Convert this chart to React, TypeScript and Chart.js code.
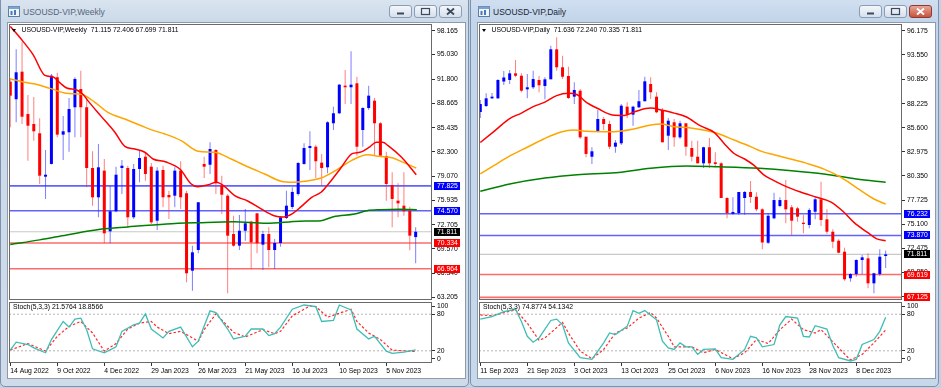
import React, { useEffect, useRef } from 'react';
import { Chart, registerables } from 'chart.js';

Chart.register(...registerables);

const FONT = '"Liberation Sans", Arial, Helvetica, sans-serif';
const FS = 6.8;
const X_MIN = -0.22;
const X_MAX = 71.78;

// ================= WEEKLY =================
const weeklyDates = ['14 Aug 2022', '9 Oct 2022', '4 Dec 2022', '29 Jan 2023', '26 Mar 2023', '21 May 2023', '16 Jul 2023', '10 Sep 2023', '5 Nov 2023'];
const weeklyDateBars = [0, 8, 16, 24, 32, 40, 48, 56, 64];
const weeklyOpen = [91.48, 89.18, 92.79, 87.25, 85.94, 84.72, 79.03, 80.70, 92.06, 84.54,
  84.85, 88.13, 90.52, 88.13, 80.17, 76.33, 79.82, 71.87, 74.50, 80.17,
  80.17, 73.71, 80.04, 81.65, 80.34, 73.26, 79.91, 76.63, 76.54, 79.82,
  76.86, 66.71, 69.42, 80.70, 80.60, 82.53, 77.85, 76.54, 71.52, 69.99,
  71.95, 73.13, 74.23, 70.12, 71.52, 69.42, 70.34, 73.62, 75.06, 76.76,
  80.70, 82.79, 82.96, 80.87, 80.26, 86.03, 87.34, 90.96, 90.75, 91.27,
  85.15, 88.03, 88.99, 86.03, 81.74, 77.94, 75.89, 75.23, 74.57, 71.115];
const weeklyHigh = [91.97, 95.73, 96.72, 89.74, 89.48, 86.68, 82.53, 92.49, 92.66, 86.99,
  89.35, 92.06, 92.92, 89.18, 82.36, 83.32, 81.35, 77.85, 80.34, 81.22,
  80.47, 80.70, 82.44, 82.23, 80.83, 80.26, 80.47, 77.20, 80.26, 81.05,
  77.20, 69.99, 75.68, 81.65, 83.54, 82.66, 79.16, 76.76, 73.92, 74.01,
  74.80, 73.26, 74.23, 71.95, 72.40, 70.87, 73.79, 77.20, 77.64, 80.92,
  83.41, 84.98, 83.22, 82.01, 86.29, 88.21, 91.18, 93.01, 95.47, 92.14,
  88.13, 90.96, 89.35, 86.20, 82.31, 79.61, 78.17, 79.61, 75.10, 72.406];
const weeklyLow = [85.50, 86.16, 85.94, 81.13, 83.75, 78.07, 76.11, 80.63, 84.19, 81.22,
  82.31, 84.19, 84.19, 77.64, 75.23, 73.71, 70.30, 70.30, 74.37, 76.76,
  72.40, 73.49, 78.30, 78.51, 72.83, 72.05, 75.02, 73.49, 75.02, 74.80,
  65.19, 64.09, 68.99, 78.86, 79.38, 76.76, 74.14, 63.75, 69.86, 69.42,
  70.64, 66.93, 68.99, 66.80, 67.16, 66.93, 69.86, 73.49, 74.80, 76.54,
  80.60, 79.91, 78.86, 77.85, 79.48, 85.15, 87.25, 88.56, 88.56, 81.78,
  82.96, 87.77, 81.78, 81.65, 75.89, 72.40, 73.71, 73.92, 69.40, 67.699];
const weeklyClose = [89.65, 92.71, 86.89, 85.71, 84.98, 79.16, 79.29, 92.27, 84.54, 84.98,
  87.90, 91.84, 88.13, 80.17, 76.33, 80.26, 71.61, 74.50, 79.29, 80.47,
  73.71, 80.04, 81.48, 79.38, 73.05, 79.82, 76.33, 76.33, 79.82, 76.33,
  66.37, 69.12, 75.68, 80.34, 82.66, 78.17, 76.67, 71.30, 69.99, 71.95,
  72.92, 70.43, 70.30, 71.52, 69.42, 70.34, 73.71, 75.23, 77.03, 80.83,
  82.79, 83.05, 81.05, 80.17, 86.16, 87.34, 91.09, 90.75, 91.09, 82.96,
  88.03, 89.65, 86.03, 81.78, 78.07, 76.11, 75.54, 74.50, 71.30, 71.811];
const weeklyPriceTicks = [98.165, 95.03, 91.8, 88.665, 85.435, 82.3, 79.07, 75.935, 72.705, 69.57, 66.34, 63.205];
const weeklyRange = [62.87, 99.04];
const weeklyBlueLevels = [77.825, 74.57];
const weeklyRedLevels = [70.334, 66.964];
const weeklyLast = 71.811;
const weeklyQuote = ['71.115', '72.406', '67.699', '71.811'];
// moving averages: [bar index, value]
const weeklyMaFast = [[0, 98.7], [1.7, 97.2], [3.9, 95.0], [5.9, 92.3], [7.3, 92.1], [8.5, 91.3], [9.6, 90.65], [11.3, 90.4], [12.4, 89.8], [13.2, 89.0], [15.4, 87.0], [17.8, 84.85], [19.5, 83.0], [21.2, 82.66], [22.9, 82.23], [24.3, 81.35], [26.5, 80.95], [28.9, 80.0], [30.8, 78.07], [31.9, 77.72], [33.7, 77.98], [35.1, 78.3], [36.5, 77.72], [38.2, 76.54], [40.4, 75.85], [42.7, 74.8], [44.9, 73.92], [46.5, 73.75], [48.1, 74.23], [49.5, 75.1], [51.3, 76.33], [52.9, 76.99], [54.6, 78.51], [56.2, 80.1], [58.2, 82.05], [59.5, 82.23], [61.2, 82.95], [62.3, 83.54], [63.4, 83.54], [64.3, 83.09], [66.6, 81.57], [69.1, 79.29]];
const weeklyMaMid = [[0, 91.84], [2.4, 91.4], [4, 91.2], [6.8, 90.6], [9.6, 89.95], [12.2, 89.8], [14.4, 88.78], [16.6, 87.47], [19.5, 86.59], [22.3, 85.71], [24.3, 85.1], [26.3, 84.63], [29.1, 83.75], [32, 82.36], [34.8, 82.23], [37.6, 81.35], [40.5, 80.3], [43.3, 79.38], [46.1, 78.43], [48.1, 78.3], [50.1, 78.43], [52.9, 78.86], [55.5, 79.9], [58.2, 81.2], [60.8, 81.9], [62.8, 81.7], [65, 81.5], [66.6, 81.0], [69.1, 80.17]];
const weeklyMaSlow = [[0, 70.15], [5, 70.75], [9.6, 71.39], [15.3, 72.14], [20, 72.45], [26.6, 72.83], [32, 73.0], [38, 73.13], [43.6, 72.92], [49.3, 73.2], [52.9, 73.26], [55, 73.79], [58.6, 74.14], [60.7, 74.57], [63, 74.7], [66.3, 74.75], [69.2, 74.7]];
const weeklyStochMain = [[0, 21.1], [1, 34.1], [3, 30.3], [4, 24.9], [6, 16.8], [7, 38.4], [9, 68.1], [10, 58.9], [11, 71.9], [12, 73.5], [13, 54.6], [14, 23.2], [16, 16.8], [18, 26.5], [19, 51.9], [21, 62.7], [22, 65.4], [23, 80.5], [24, 55.7], [26, 41.1], [27, 51.9], [29, 58.9], [31, 26.5], [32, 35.7], [34, 85.4], [35, 82.7], [37, 55.7], [38, 39.4], [40, 43.8], [41, 55.7], [43, 55.7], [44, 44.9], [45, 48.1], [46, 58.9], [48, 88.1], [50, 95.1], [52, 92.4], [53, 68.1], [55, 69.7], [56, 95.1], [58, 87.0], [59, 55.7], [61, 39.4], [62, 43.8], [64, 19.5], [65, 15.7], [67, 17.8], [69, 21.58]];
const weeklyStochSignal = [[0, 21.1], [3, 31.9], [6, 19.5], [8, 43.8], [10, 60], [12, 68.1], [14, 49.2], [16, 19.5], [18, 31.9], [20, 55.7], [22, 65.4], [24, 68.1], [25, 58.9], [27, 48.1], [29, 51.9], [32, 35.7], [33, 54.6], [35, 80.5], [38, 50.3], [40, 42.7], [43, 54.6], [45, 48.1], [46, 51.9], [48, 77.3], [51, 93.5], [52, 92.4], [54, 75.1], [56, 81.6], [58, 88.1], [59, 68.1], [61, 49.2], [63, 38.4], [65, 21.1], [69, 18.86]];
const weeklyStochText = ['21.5764', '18.8566'];

// ================= DAILY =================
const dailyDates = ['11 Sep 2023', '21 Sep 2023', '3 Oct 2023', '13 Oct 2023', '25 Oct 2023', '6 Nov 2023', '16 Nov 2023', '28 Nov 2023', '8 Dec 2023'];
const dailyDateBars = [0, 8, 16, 24, 32, 40, 48, 56, 64];
const dailyOpen = [87.32, 87.97, 88.81, 88.81, 90.64, 90.81, 91.53, 91.27, 89.79, 90.01,
  90.81, 90.15, 90.88, 94.15, 92.19, 91.24, 88.99, 89.64, 84.63, 82.45,
  85.22, 86.56, 86.01, 83.54, 83.91, 87.90, 87.03, 87.83, 88.49, 90.37,
  88.99, 87.54, 84.74, 86.20, 84.56, 86.09, 83.40, 82.45, 81.73, 83.48,
  81.84, 81.73, 77.95, 76.24, 76.32, 77.95, 78.61, 78.09, 76.72, 73.08,
  75.74, 77.08, 77.73, 76.94, 76.83, 75.26, 75.01, 76.46, 77.81, 75.63,
  74.28, 73.30, 72.10, 69.21, 69.67, 71.20, 71.38, 68.66, 69.67, 71.636];
const dailyHigh = [88.63, 89.36, 89.39, 90.88, 91.79, 91.89, 92.98, 91.53, 91.46, 91.82,
  91.24, 91.10, 94.54, 95.46, 93.45, 92.25, 90.55, 89.82, 84.63, 83.48,
  87.54, 86.78, 86.37, 84.27, 88.19, 88.38, 88.01, 89.72, 91.16, 91.10,
  89.47, 87.76, 86.67, 86.56, 86.37, 86.09, 84.19, 84.19, 83.54, 84.49,
  82.93, 81.84, 78.03, 78.03, 78.61, 78.72, 79.80, 78.57, 76.83, 76.29,
  78.53, 78.03, 79.91, 77.19, 77.01, 76.10, 76.83, 78.17, 79.73, 76.72,
  74.54, 73.45, 72.54, 69.75, 71.27, 71.74, 71.93, 69.82, 72.37, 72.240];
const dailyLow = [86.67, 87.86, 88.74, 88.74, 90.26, 90.37, 91.10, 89.47, 88.81, 89.82,
  89.47, 88.70, 90.88, 91.82, 90.91, 88.74, 88.19, 84.38, 82.39, 81.66,
  85.11, 85.36, 83.29, 82.89, 83.73, 86.67, 85.83, 87.76, 88.49, 88.74,
  87.18, 84.02, 83.18, 83.54, 84.38, 82.56, 81.95, 81.73, 81.22, 81.22,
  81.33, 77.95, 75.74, 76.13, 76.13, 76.13, 77.41, 76.50, 72.37, 72.94,
  75.63, 76.94, 75.20, 73.92, 75.37, 74.11, 74.65, 75.63, 74.90, 74.03,
  72.47, 71.93, 68.95, 68.84, 69.38, 69.67, 68.12, 67.57, 69.46, 70.335];
const dailyClose = [88.19, 88.81, 88.99, 90.81, 91.08, 91.53, 91.27, 89.64, 90.01, 90.91,
  90.23, 90.88, 94.15, 92.19, 91.16, 88.84, 89.72, 84.56, 82.75, 83.04,
  86.56, 86.01, 83.54, 83.98, 88.01, 87.03, 87.90, 88.49, 90.66, 89.47,
  87.29, 84.02, 86.37, 84.56, 86.09, 83.54, 82.45, 81.73, 83.48, 81.73,
  81.66, 77.95, 76.32, 76.43, 78.61, 78.61, 78.06, 76.72, 73.11, 76.02,
  77.73, 77.73, 76.72, 75.48, 75.92, 75.12, 76.65, 77.81, 75.56, 74.28,
  73.19, 71.99, 69.10, 69.67, 71.20, 71.49, 68.66, 69.75, 71.56, 71.811];
const dailyPriceTicks = [96.175, 93.55, 90.85, 88.225, 85.6, 82.975, 80.35, 77.725, 75.1, 72.475, 69.85, 67.225];
const dailyRange = [66.843, 96.905];
const dailyBlueLevels = [76.232, 73.87];
const dailyRedLevels = [69.619, 67.125];
const dailyLast = 71.811;
const dailyQuote = ['71.636', '72.240', '70.335', '71.811'];
const dailyMaFast = [[0, 84.0], [2.5, 85.3], [5, 86.6], [7, 87.2], [9, 87.9], [11, 88.4], [13, 89.1], [15, 89.35], [16.5, 89.2], [18, 88.4], [20, 87.7], [22.5, 87.0], [24.5, 86.95], [26.5, 87.4], [29, 87.75], [31, 87.5], [33, 87.2], [35, 86.8], [37.5, 85.8], [39.8, 85.1], [41.5, 83.9], [43.2, 82.8], [45, 82.2], [46.6, 81.5], [48.2, 80.5], [49.5, 80.0], [51.7, 79.3], [54.5, 78.6], [57.4, 78.0], [59.7, 77.5], [61.9, 76.4], [63.6, 75.3], [65.9, 74.2], [67.5, 73.5], [69, 73.3]];
const dailyMaMid = [[0, 80.57], [2.3, 81.47], [5.1, 82.56], [8, 83.48], [10.8, 84.38], [13.6, 85.11], [15.9, 85.36], [18.2, 85.22], [22.2, 85.17], [26.1, 85.47], [29, 85.9], [30.7, 86.0], [33, 85.72], [35.8, 85.58], [38.6, 85.28], [40.3, 85.0], [43.2, 84.27], [46, 83.55], [48, 83.0], [50, 82.67], [52.8, 82.2], [55.7, 81.7], [58.5, 81.1], [61.4, 80.2], [64.2, 79.0], [67, 77.84], [69, 77.3]];
const dailyMaSlow = [[0, 78.68], [5, 79.48], [11, 80.13], [16.5, 80.49], [23, 80.7], [29, 81.2], [35, 81.45], [40.5, 81.36], [47.5, 81.19], [53, 80.93], [58.5, 80.57], [64, 80.02], [69, 79.66]];
const dailyStochMain = [[0, 71.9], [2, 76.2], [4, 84.3], [6, 88.1], [7, 68.1], [8, 43.8], [9, 34.1], [10, 41.1], [12, 69.7], [13, 71.9], [14, 62.7], [15, 33.0], [17, 8.7], [19, 6.0], [21, 33.0], [22, 49.2], [23, 46.5], [25, 60], [26, 85.9], [27, 81.6], [28, 85.9], [30, 70.8], [31, 35.7], [32, 24.9], [33, 22.2], [34, 33.0], [35, 26.5], [36, 26.5], [37, 14.1], [38, 22.2], [40, 23.2], [41, 8.7], [43, 6.0], [45, 22.2], [46, 43.8], [47, 41.1], [48, 26.5], [50, 30.3], [51, 62.7], [52, 76.2], [54, 73.5], [55, 43.8], [56, 42.7], [57, 61.1], [59, 55.7], [60, 28.7], [61, 8.7], [63, 3.3], [64, 6.0], [65, 30.3], [67, 38.4], [68, 51.9], [69, 74.88]];
const dailyStochSignal = [[0, 78.9], [2, 77.3], [4, 82.7], [6, 87], [8, 65.4], [10, 37.3], [11, 41.1], [14, 66.5], [15, 49.2], [17, 19.5], [19, 7.0], [21, 22.2], [23, 49.2], [25, 57.3], [27, 73.5], [29, 82.7], [30, 73.5], [32, 43.8], [33, 26.5], [36, 26.5], [38, 16.8], [40, 22.2], [43, 7.0], [45, 16.8], [47, 38.4], [49, 31.9], [51, 54.6], [53, 71.9], [55, 54.6], [57, 49.2], [58, 54.6], [61, 24.9], [63, 4.9], [65, 14.1], [67, 33.0], [69, 54.13]];
const dailyStochText = ['74.8774', '54.1342'];

type Series = {
  open: number[]; high: number[]; low: number[]; close: number[];
  ticks: number[]; range: number[]; blue: number[]; red: number[]; last: number;
  maFast: number[][]; maMid: number[][]; maSlow: number[][];
  stochMain: number[][]; stochSignal: number[][];
  dates: string[]; dateBars: number[];
};

const weekly: Series = {
  open: weeklyOpen, high: weeklyHigh, low: weeklyLow, close: weeklyClose,
  ticks: weeklyPriceTicks, range: weeklyRange, blue: weeklyBlueLevels, red: weeklyRedLevels, last: weeklyLast,
  maFast: weeklyMaFast, maMid: weeklyMaMid, maSlow: weeklyMaSlow,
  stochMain: weeklyStochMain, stochSignal: weeklyStochSignal, dates: weeklyDates, dateBars: weeklyDateBars,
};
const daily: Series = {
  open: dailyOpen, high: dailyHigh, low: dailyLow, close: dailyClose,
  ticks: dailyPriceTicks, range: dailyRange, blue: dailyBlueLevels, red: dailyRedLevels, last: dailyLast,
  maFast: dailyMaFast, maMid: dailyMaMid, maSlow: dailyMaSlow,
  stochMain: dailyStochMain, stochSignal: dailyStochSignal, dates: dailyDates, dateBars: dailyDateBars,
};

const pts = (a: number[][]) => a.map(([x, y]) => ({ x, y }));
const hline = (v: number, color: string, width: number, order: number, dash: number[] = []) => ({
  type: 'line', data: [{ x: X_MIN, y: v }, { x: X_MAX, y: v }], borderColor: color, borderWidth: width,
  borderDash: dash, pointRadius: 0, order,
});
const maLine = (a: number[][], color: string, order: number) => ({
  type: 'line', data: pts(a), borderColor: color, borderWidth: 1.5, pointRadius: 0,
  tension: 0.4, cubicInterpolationMode: 'monotone', order,
});

const framePlugin = {
  id: 'frame',
  afterDraw(chart: any) {
    const { ctx, chartArea: a } = chart;
    ctx.save();
    ctx.strokeStyle = '#6a6a6a';
    ctx.lineWidth = 1;
    ctx.strokeRect(a.left + 0.5, a.top + 0.5, a.right - a.left - 1, a.bottom - a.top - 1);
    ctx.restore();
  },
};

function boxesPlugin(d: Series) {
  return {
    id: 'levelBoxes',
    afterDraw(chart: any) {
      const { ctx, chartArea, scales } = chart;
      const x0 = chartArea.right + 2;
      const w = chart.width - x0 - 6;
      const items: [number, string][] = [
        ...d.blue.map((v) => [v, '#0000ff'] as [number, string]),
        ...d.red.map((v) => [v, '#ff0000'] as [number, string]),
        [d.last, '#000000'],
      ];
      ctx.save();
      ctx.font = `${FS}px ${FONT}`;
      ctx.textBaseline = 'middle';
      for (const [v, c] of items) {
        const y = Math.round(scales.y.getPixelForValue(v));
        ctx.fillStyle = c;
        ctx.fillRect(x0, y - 4, w, 8);
        ctx.fillStyle = '#ffffff';
        ctx.fillText(v.toFixed(3), x0 + 3, y + 0.5);
      }
      ctx.restore();
    },
  };
}

const stochEnds = {
  id: 'stochEnds',
  afterDraw(chart: any) {
    const { ctx, chartArea: a, scales } = chart;
    ctx.save();
    ctx.font = `${FS}px ${FONT}`;
    ctx.fillStyle = '#000';
    ctx.textBaseline = 'middle';
    ctx.fillText('100', a.right + 5, scales.y.getPixelForValue(100) + 4);
    ctx.fillText('0', a.right + 5, scales.y.getPixelForValue(0) - 4);
    ctx.strokeStyle = '#333';
    ctx.beginPath();
    ctx.moveTo(a.right, scales.y.getPixelForValue(100) + 4.5);
    ctx.lineTo(a.right + 3, scales.y.getPixelForValue(100) + 4.5);
    ctx.moveTo(a.right, scales.y.getPixelForValue(0) - 4.5);
    ctx.lineTo(a.right + 3, scales.y.getPixelForValue(0) - 4.5);
    ctx.stroke();
    ctx.restore();
  },
};

const tickFont = { family: FONT, size: FS };

function mainConfig(d: Series): any {
  const idx = d.open.map((_, i) => i);
  const up = (i: number) => d.close[i] >= d.open[i];
  return {
    type: 'bar',
    data: {
      datasets: [
        ...d.blue.map((v) => hline(v, 'rgba(70,70,255,0.85)', 1.6, 30)),
        ...d.red.map((v) => hline(v, 'rgba(255,70,70,0.8)', 1.6, 30)),
        hline(d.last, '#c8c8c8', 1.2, 31),
        {
          type: 'bar', data: idx.map((i) => ({ x: i, y: [d.low[i], d.high[i]] })),
          backgroundColor: idx.map((i) => (up(i) ? 'rgba(40,40,255,0.6)' : 'rgba(255,40,40,0.6)')),
          barThickness: 1, grouped: false, inflateAmount: 0, borderWidth: 0, order: 20,
        },
        {
          type: 'bar', data: idx.map((i) => ({ x: i, y: [d.open[i], d.close[i]] })),
          backgroundColor: idx.map((i) => (up(i) ? '#0000ff' : '#ff0000')),
          barThickness: 3, grouped: false, inflateAmount: 0, borderWidth: 0, order: 19,
        },
        maLine(d.maSlow, '#008000', 3),
        maLine(d.maMid, '#ffa500', 2),
        maLine(d.maFast, '#ff0000', 1),
      ],
    },
    options: {
      responsive: false, animation: false, events: [],
      layout: { padding: { left: 1, top: 0, right: 0, bottom: 1 } },
      plugins: { legend: { display: false }, tooltip: { enabled: false } },
      scales: {
        x: { type: 'linear', min: X_MIN, max: X_MAX, display: false, offset: false, grid: { offset: false } },
        y: {
          type: 'linear', position: 'right', min: d.range[0], max: d.range[1],
          afterBuildTicks: (s: any) => { s.ticks = d.ticks.map((v) => ({ value: v })); },
          afterFit: (s: any) => { s.width = 34; s.paddingTop = 0; s.paddingBottom = 0; },
          ticks: { autoSkip: false, padding: 2, color: '#000', font: tickFont, callback: (v: any) => Number(v).toFixed(3) },
          grid: { drawOnChartArea: false, drawTicks: true, tickLength: 3, color: '#333', tickColor: '#333' },
          border: { display: false },
        },
      },
    },
    plugins: [framePlugin, boxesPlugin(d)],
  };
}

function stochConfig(d: Series): any {
  return {
    type: 'line',
    data: {
      datasets: [
        hline(80, '#b4b4b4', 1, 10, [2, 2]),
        hline(20, '#b4b4b4', 1, 10, [2, 2]),
        { data: pts(d.stochSignal), borderColor: '#ff2a2a', borderWidth: 1.2, borderDash: [2.5, 2], pointRadius: 0, tension: 0, order: 2 },
        { data: pts(d.stochMain), borderColor: '#3fbdb5', borderWidth: 1.3, pointRadius: 0, tension: 0, order: 1 },
      ],
    },
    options: {
      responsive: false, animation: false, events: [],
      layout: { padding: { left: 1, top: 1, right: 0, bottom: 0 } },
      plugins: { legend: { display: false }, tooltip: { enabled: false } },
      scales: {
        x: {
          type: 'linear', min: X_MIN, max: X_MAX, offset: false,
          afterBuildTicks: (s: any) => { s.ticks = d.dateBars.map((v) => ({ value: v })); },
          afterFit: (s: any) => { s.height = 16; s.paddingLeft = 0; s.paddingRight = 0; },
          ticks: { autoSkip: false, maxRotation: 0, minRotation: 0, align: 'start', padding: 1, color: '#000', font: tickFont, callback: (_v: any, i: number) => d.dates[i] },
          grid: { drawOnChartArea: false, drawTicks: true, tickLength: 3, color: '#333', offset: false },
          border: { display: false },
        },
        y: {
          type: 'linear', position: 'right', min: 0, max: 100,
          afterBuildTicks: (s: any) => { s.ticks = [{ value: 20 }, { value: 80 }]; },
          afterFit: (s: any) => { s.width = 34; s.paddingTop = 0; s.paddingBottom = 0; },
          ticks: { autoSkip: false, padding: 2, color: '#000', font: tickFont, callback: (v: any) => String(v) },
          grid: { drawOnChartArea: false, drawTicks: true, tickLength: 3, color: '#333' },
          border: { display: false },
        },
      },
    },
    plugins: [framePlugin, stochEnds],
  };
}

function ChartCanvas({ cfg, left, top, width, height }: any) {
  const ref = useRef<HTMLCanvasElement>(null);
  useEffect(() => {
    const chart = new Chart(ref.current as HTMLCanvasElement, cfg);
    return () => chart.destroy();
  }, []);
  return <canvas ref={ref} width={width} height={height} style={{ position: 'absolute', left, top, width, height }} />;
}

function Btn({ x, kind, hot }: { x: number; kind: string; hot?: boolean }) {
  const ink = hot ? '#ffffff' : '#3b4a5e';
  return (
    <div style={{
      position: 'absolute', left: x, top: 5, width: 23, height: 13, boxSizing: 'border-box',
      border: hot ? '1px solid #8a3b2d' : '1px solid #8b9cb5', borderRadius: 3,
      background: hot ? 'linear-gradient(#e9a597, #c9533f)' : 'linear-gradient(#f4f7fb, #d6e0ec)',
    }}>
      <svg width={21} height={11} style={{ position: 'absolute', left: 0, top: 0 }}>
        {kind === 'min' && <rect x={7} y={6.5} width={7} height={2} fill={ink} />}
        {kind === 'max' && <rect x={6.5} y={2.5} width={8} height={6} fill="none" stroke={ink} strokeWidth={1.2} />}
        {kind === 'close' && <path d="M7 2.5 L14 8.5 M14 2.5 L7 8.5" stroke={ink} strokeWidth={1.8} />}
      </svg>
    </div>
  );
}

function ChartWindow({ x, title, d, quote, stochText, active }: any) {
  const small: React.CSSProperties = { position: 'absolute', fontSize: FS, lineHeight: 1, color: '#000', whiteSpace: 'pre', fontFamily: FONT };
  return (
    <div style={{ position: 'absolute', left: x, top: 0, width: 469, height: 387 }}>
      <div style={{
        position: 'absolute', left: 0, top: -4, width: 469, height: 391, boxSizing: 'border-box',
        border: '1px solid #7d92ae', borderRadius: 5,
        background: active ? 'linear-gradient(#d2e0f1, #c3d5ea 24px, #c8d8eb)' : 'linear-gradient(#dbe5f1, #ccd9e8 24px, #cfdbe9)',
      }} />
      <svg width={12} height={11} style={{ position: 'absolute', left: 8, top: 6 }}>
        <rect x={0.5} y={0.5} width={11} height={10} fill="#eef4fb" stroke="#5b7ea8" />
        <rect x={0.5} y={0.5} width={11} height={2.5} fill="#7da2cf" />
        <rect x={2.5} y={5} width={2} height={4} fill="#4a78b8" />
        <rect x={6} y={4} width={2} height={5} fill="#4a78b8" />
      </svg>
      <div style={{ position: 'absolute', left: 23, top: 7.5, fontSize: 8.5, lineHeight: 1, fontFamily: FONT, color: active ? '#1b2533' : '#56657a', whiteSpace: 'pre' }}>{title}</div>
      <Btn x={389} kind="min" />
      <Btn x={414} kind="max" />
      <Btn x={439} kind="close" hot={active} />
      <div style={{ position: 'absolute', left: 7, top: 22, width: 459, height: 357, boxSizing: 'border-box', border: '1px solid #8e9aab', background: '#ffffff' }} />
      <ChartCanvas cfg={mainConfig(d)} left={8} top={24} width={458} height={277} />
      <ChartCanvas cfg={stochConfig(d)} left={8} top={301} width={458} height={78} />
      <div style={{ position: 'absolute', left: 12, top: 28.5, width: 0, height: 0, borderLeft: '2.5px solid transparent', borderRight: '2.5px solid transparent', borderTop: '3.5px solid #000' }} />
      <div style={{ ...small, left: 21.5, top: 26.5 }}>{`${title}  ${quote.join(' ')}`}</div>
      <div style={{ ...small, left: 13, top: 303.7 }}>{`Stoch(5,3,3) ${stochText.join(' ')}`}</div>
    </div>
  );
}

export default function App() {
  return (
    <div style={{ position: 'fixed', left: 0, top: 0, width: 941, height: 388, background: '#c2d0e2', overflow: 'hidden', fontFamily: FONT }}>
      <ChartWindow x={0} title="USOUSD-VIP,Weekly" d={weekly} quote={weeklyQuote} stochText={weeklyStochText} active={false} />
      <ChartWindow x={470} title="USOUSD-VIP,Daily" d={daily} quote={dailyQuote} stochText={dailyStochText} active={true} />
    </div>
  );
}
